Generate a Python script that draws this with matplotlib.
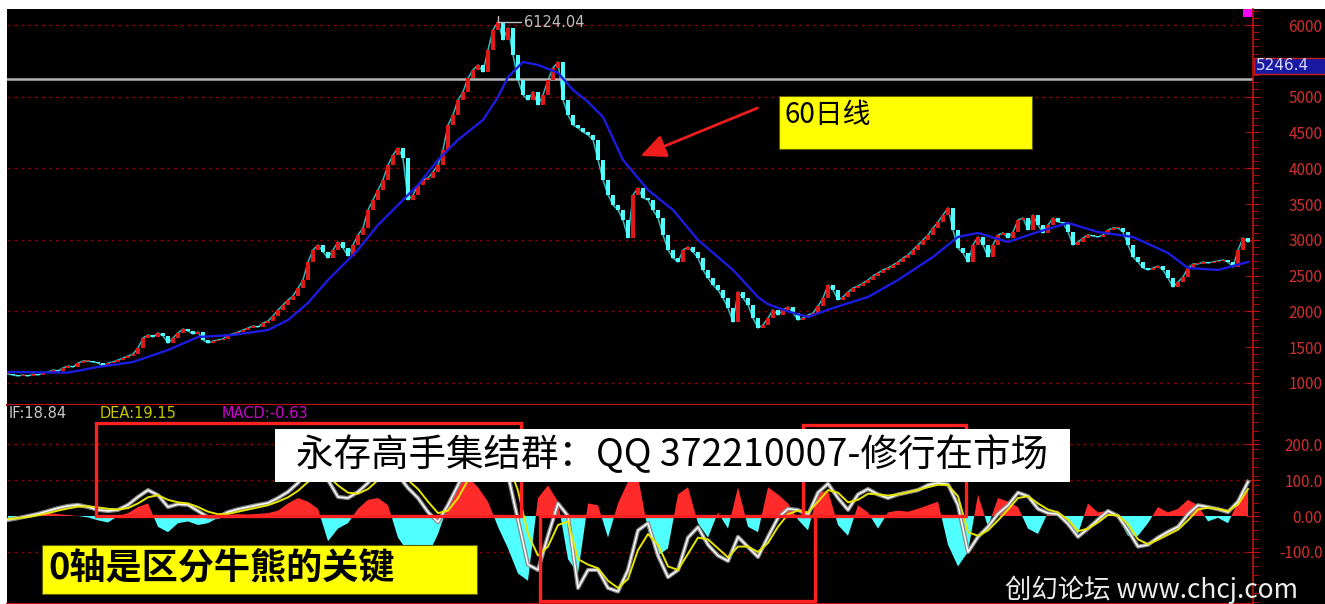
import numpy as np
import matplotlib
matplotlib.use("Agg")
import matplotlib.pyplot as plt
from matplotlib.patches import Rectangle, FancyArrowPatch

plt.rcParams['font.family'] = ['Noto Sans CJK SC', 'DejaVu Sans']

W, H = 1325, 604

# --- Price data (one close every bar) ---
closes = [
    1125, 1112, 1098, 1112, 1098, 1125, 1112, 1140, 1154, 1182,
    1168, 1210, 1237, 1224, 1279, 1307, 1307, 1293, 1279, 1237,
    1279, 1293, 1321, 1349, 1377, 1405, 1489, 1629, 1671, 1643,
    1699, 1657, 1559, 1629, 1699, 1754, 1726, 1685, 1712, 1601,
    1559, 1587, 1601, 1615, 1671, 1685, 1712, 1740, 1768, 1796,
    1782, 1838, 1866, 1936, 2020, 2090, 2160, 2215, 2327, 2439,
    2690, 2858, 2928, 2830, 2746, 2858, 2970, 2886, 2774, 2928,
    3068, 3165, 3417, 3557, 3696, 3836, 4045, 4185, 4283, 4143,
    3557, 3626, 3766, 3836, 3864, 3948, 4045, 4255, 4604, 4744,
    4954, 5065, 5261, 5373, 5442, 5345, 5652, 5931, 6043, 5792,
    5959, 5582, 5233, 5023, 4954, 5065, 4884, 5023, 5233, 5401,
    5484, 4954, 4744, 4604, 4562, 4506, 4465, 4395, 4115, 3836,
    3626, 3487, 3417, 3277, 3026, 3626, 3724, 3584, 3557, 3417,
    3305, 3068, 2858, 2746, 2690, 2858, 2900, 2830, 2746, 2579,
    2467, 2369, 2299, 2187, 2048, 1852, 2271, 2187, 2090, 1908,
    1768, 1810, 1908, 2020, 1950, 2020, 2062, 1978, 1880, 1908,
    1950, 1978, 2076, 2187, 2369, 2299, 2160, 2201, 2271, 2327,
    2355, 2397, 2439, 2495, 2537, 2579, 2607, 2648, 2690, 2746,
    2788, 2858, 2928, 2998, 3068, 3165, 3249, 3347, 3445, 3137,
    2886, 2816, 2690, 2928, 3040, 2928, 2760, 2928, 3068, 3096,
    3026, 3109, 3277, 3305, 3137, 3347, 3207, 3096, 3207, 3305,
    3249, 3235, 3109, 2928, 2970, 3026, 3068, 3054, 3040, 3068,
    3137, 3165, 3165, 3109, 2928, 2760, 2690, 2607, 2579, 2607,
    2634, 2579, 2467, 2341, 2411, 2481, 2607, 2662, 2662, 2690,
    2676, 2690, 2704, 2718, 2690, 2621, 2858, 3026, 2970,
]

# 60-day moving average (bar index, value)
ma_bars = [0, 12, 18, 25, 32, 38, 45, 52, 56, 60, 64, 70, 74, 78, 82, 86, 90,
           95, 98, 100, 103, 106, 110, 113, 116, 119, 123, 128, 133, 138, 145,
           150, 152, 156, 160, 165, 172, 178, 185, 190, 194, 200, 206, 212,
           218, 225, 232, 236, 242, 248]
ma60 = [1154, 1145, 1224, 1293, 1461, 1643, 1671, 1740, 1880, 2118, 2439,
        2858, 3207, 3487, 3766, 4115, 4395, 4674, 4994, 5274, 5484, 5442,
        5331, 5093, 4926, 4716, 4115, 3696, 3417, 2998, 2579, 2200, 2100,
        2000, 1922, 2048, 2201, 2439, 2760, 3040, 3096, 2970, 3109, 3235,
        3109, 3040, 2816, 2607, 2579, 2690]

# --- MACD data (one value every 2 bars) ---
dif = [
    -11, -6, 0, 6, 14, 22, 28, 31, 25, 17,
    14, 17, 31, 53, 72, 58, 25, 33, 31, 14,
    -3, -3, 11, 19, 25, 31, 36, 50, 67, 92,
    122, 133, 100, 53, 50, 67, 92, 128, 142, 114,
    78, 50, 11, -17, 31, 86, 142, 183, 197, 183,
    114, -11, -135, -150, -55, 35, 0, -200, -150, -150,
    -200, -210, -150, -40, -20, -110, -170, -150, -60, -31,
    -80, -110, -125, -58, -86, -114, -58, -5, 20, 17,
    3, 65, 90, 50, 17, 60, 75, 60, 50, 60,
    66, 72, 86, 92, 88, 30, -100, -58, -30, 6,
    30, 65, 55, 20, 8, 5, -22, -58, -35, -10,
    14, 0, -40, -85, -80, -60, -44, -30, 5, 30,
    25, 19, 11, 40, 95,
]
dea = [
    -8, -6, -3, 2, 8, 15, 21, 26, 27, 24,
    20, 18, 22, 35, 52, 58, 45, 38, 35, 25,
    12, 5, 6, 12, 18, 24, 30, 40, 52, 70,
    95, 115, 112, 85, 65, 62, 75, 100, 122, 122,
    100, 75, 40, 8, 15, 50, 100, 145, 175, 182,
    150, 70, -50, -110, -85, -25, -15, -120, -135, -145,
    -180, -200, -175, -95, -50, -80, -140, -150, -105, -60,
    -65, -90, -115, -85, -85, -100, -75, -30, 5, 15,
    10, 40, 72, 65, 38, 45, 62, 60, 57, 60,
    66, 73, 80, 87, 86, 55, -45, -55, -40, -12,
    18, 50, 55, 35, 18, 10, -10, -42, -35, -18,
    3, 2, -22, -65, -78, -66, -52, -38, -12, 18,
    23, 20, 14, 32, 75,
]
macd_hist = [
    -8, -5, 3, 6, 8, 5, 3, 0, -4, -12,
    -18, 0, 8, 25, 35, -30, -45, -20, -15, -25,
    -20, -5, 3, 5, 4, 6, 8, 15, 35, 50,
    40, 20, -70, -35, -20, 20, 45, 50, 30, -60,
    -100, -140, -110, -50, 30, 95, 110, 80, 40, -30,
    -90, -160, -180, 50, 85, 40, -120, -160, 35, 30,
    -60, 35, 95, 110, -40, -110, -90, 60, 80, -20,
    -60, 10, -35, 80, -30, -45, 80, 60, 35, -10,
    -40, 65, 70, -25, -55, 30, 10, -35, 10, 15,
    12, 20, 30, 40, -80, -140, -100, 60, -30, 50,
    40, 25, -35, -50, 10, 15, -30, -50, 35, 10,
    15, -5, -55, -55, -20, 25, 10, 20, 45, 30,
    -15, -5, -20, 40, 75,
]

price_ticks = [1000, 1500, 2000, 2500, 3000, 3500, 4000, 4500, 5000, 6000]
price_grid = [1000, 2000, 3000, 4000, 5000, 6000]
macd_ticks = [-100, 0, 100, 200]
macd_tick_labels = ["-100.0", "0.00", "100.0", "200.0"]
macd_grid = [-100, 100, 200]

peak_bar, peak_value = 98, 6124.04
last_price = 5246.4
header = [("IF:18.84", "#c8c8c8"), ("DEA:19.15", "#c8c800"), ("MACD:-0.63", "#d000d0")]

# highlighted MACD regions (bar from, bar to, value from, value to)
boxes = [(17.6, 102.6, 0, 259), (106.4, 161.4, -236, 0), (159.0, 191.6, 0, 253)]

RED = "#e01818"
CYAN = "#50ffff"
GRID = "#8c0000"
AXIS = "#c01010"


def fx(px):
    return px / W


def fy(py):
    return 1 - py / H


fig = plt.figure(figsize=(W / 100, H / 100), dpi=100, facecolor="white")
fig.patches.append(Rectangle((fx(7), 0), 1 - fx(7), fy(9), transform=fig.transFigure,
                             facecolor="black", edgecolor="none", zorder=-10))

ax_p = fig.add_axes([fx(7), fy(405), (1253 - 7) / W, (405 - 9) / H])
ax_m = fig.add_axes([fx(7), 0, (1253 - 7) / W, (604 - 405) / H])

for ax in (ax_p, ax_m):
    ax.set_facecolor("black")
    ax.set_xlim(-0.2, 249)
    ax.set_xticks([])
    for s in ("top", "left"):
        ax.spines[s].set_visible(False)
    ax.spines["right"].set_color(AXIS)
    ax.spines["bottom"].set_color(AXIS)
    ax.spines["right"].set_linewidth(1.2)
    ax.spines["bottom"].set_linewidth(1.5)
    ax.yaxis.tick_right()
    ax.tick_params(axis="y", which="major", direction="inout", length=10, color=AXIS,
                   labelcolor="#d03030", labelsize=11, pad=45)
    ax.tick_params(axis="y", which="minor", direction="out", length=4, color=AXIS)

# --- Price panel ---
c = np.array(closes, dtype=float)
o = np.r_[c[0], c[:-1]]
idx = np.arange(len(c))
up = c >= o
body = np.maximum(np.abs(c - o), 12)
low = np.minimum(c, o) - 3
ax_p.plot(idx, c, color="#38b8b8", lw=1.1, zorder=2)
ax_p.bar(idx[up], body[up], bottom=low[up], width=0.7, color=RED, lw=0, zorder=3)
ax_p.bar(idx[~up], body[~up], bottom=low[~up], width=0.7, color=CYAN, lw=0, zorder=3)
ax_p.plot(ma_bars, ma60, color="#1c1ce0", lw=1.7, zorder=4)

for v in price_grid:
    ax_p.axhline(v, color=GRID, lw=1, ls=(0, (2, 3)), zorder=1)
ax_p.axhline(last_price, color="#b4b4b4", lw=1.8, zorder=2)

ax_p.set_ylim(692.7, 6223.5)
ax_p.set_yticks(price_ticks, [str(t) for t in price_ticks], ha="right")
ax_p.set_yticks(np.arange(700, 6201, 100), minor=True)

ax_p.annotate(f"{peak_value:.2f}", xy=(peak_bar, peak_value), xytext=(26, -6),
              textcoords="offset pixels", color="#c0c0c0", fontsize=10.5,
              family="DejaVu Sans", va="center", ha="left",
              arrowprops=dict(arrowstyle="-", color="#c0c0c0", lw=1, shrinkA=0, shrinkB=0,
                              connectionstyle="angle,angleA=0,angleB=90,rad=0"))

# --- MACD panel ---
mx = np.arange(len(dif)) * 2
hist = np.array(macd_hist, dtype=float)
ax_m.fill_between(mx, hist, 0, where=hist >= 0, interpolate=True, color="#ff2a2a", lw=0, zorder=2)
ax_m.fill_between(mx, hist, 0, where=hist <= 0, interpolate=True, color=CYAN, lw=0, zorder=2)
ax_m.plot(mx, dif, color="#8a8a8a", lw=3.0, zorder=3)
ax_m.plot(mx, dif, color="white", lw=1.1, zorder=4)
ax_m.plot(mx, dea, color="#e6e600", lw=1.4, zorder=5)

for v in macd_grid:
    ax_m.axhline(v, color=GRID, lw=1, ls=(0, (2, 3)), zorder=1)

for x0, x1, y0, y1 in boxes:
    ax_m.add_patch(Rectangle((x0, y0), x1 - x0, y1 - y0, fill=False, edgecolor="#ff2020",
                             lw=2.4, zorder=6, clip_on=False))

ax_m.set_ylim(-244.6, 308.6)
ax_m.set_yticks(macd_ticks, macd_tick_labels, ha="right")
ax_m.set_yticks(np.arange(-240, 301, 25), minor=True)

# header of the MACD panel
for (txt, col), px in zip(header, [9, 100, 222]):
    fig.text(fx(px), fy(413), txt, color=col, fontsize=10.5, family="DejaVu Sans", va="center")

# --- Overlays ---
fig.patches.append(Rectangle((fx(1243), fy(17)), 9 / W, 8 / H, transform=fig.transFigure,
                             facecolor="#ff00ff", edgecolor="none", zorder=5))
fig.patches.append(Rectangle((fx(1254), fy(74)), 72 / W, 16 / H, transform=fig.transFigure,
                             facecolor="#1818a0", edgecolor="#c02020", lw=1, zorder=5))
fig.text(fx(1256), fy(66), f"{last_price}", color="#d8d8ff", fontsize=11,
         family="DejaVu Sans", va="center", zorder=6)

fig.patches.append(Rectangle((fx(779), fy(149)), (1032 - 779) / W, (149 - 96) / H,
                             transform=fig.transFigure, facecolor="#ffff00",
                             edgecolor="#606000", lw=0.8, zorder=5))
fig.text(fx(785), fy(115), "60日线", color="black", fontsize=20, va="center", zorder=6)
fig.patches.append(FancyArrowPatch((fx(760), fy(107)), (fx(638), fy(157)),
                                   transform=fig.transFigure, color="#ee1c1c", lw=2,
                                   arrowstyle="-|>,head_length=1.1,head_width=0.5",
                                   mutation_scale=14, zorder=5))

fig.patches.append(Rectangle((fx(275), fy(482)), (1070 - 275) / W, (482 - 429) / H,
                             transform=fig.transFigure, facecolor="white",
                             edgecolor="none", zorder=5))
fig.text(fx(672), fy(456), "永存高手集结群：QQ 372210007-修行在市场", color="black",
         fontsize=27, ha="center", va="center", zorder=6)

fig.patches.append(Rectangle((fx(42), fy(594)), (477 - 42) / W, (594 - 545) / H,
                             transform=fig.transFigure, facecolor="#ffff00",
                             edgecolor="#606000", lw=0.8, zorder=5))
fig.text(fx(48), fy(568), "0轴是区分牛熊的关键", color="black", fontsize=26,
         fontweight="bold", va="center", zorder=6)

fig.text(fx(1005), fy(590), "创幻论坛 www.chcj.com", color="#ececec", fontsize=19,
         va="center", zorder=6)

fig.savefig("out.png", dpi=100, facecolor=fig.get_facecolor())
